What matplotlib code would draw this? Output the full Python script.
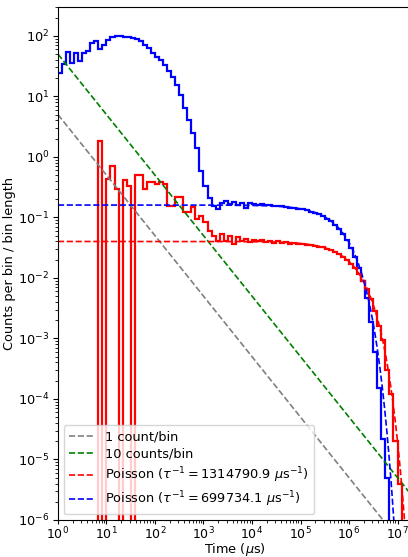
import numpy as np
import matplotlib
matplotlib.use("Agg")
import matplotlib.pyplot as plt

plt.rcParams.update({
    "font.size": 9.3,
    "xtick.labelsize": 9.0,
    "xtick.major.size": 3.0,
    "ytick.major.size": 3.3,
    "xtick.minor.size": 1.8,
    "ytick.minor.size": 1.9,
    "xtick.major.pad": 1.4,
    "ytick.major.pad": 3.0,
})

# log-spaced time bins, 12 per decade (microseconds)
BINS_PER_DECADE = 12
N_BINS = 89

# counts per bin / bin length, one value per bin
blue_rate = [
    24, 34, 55, 35, 52, 38, 52, 57, 76, 83,
    60, 71, 86, 95, 98, 101, 97, 95, 91, 88,
    83, 71, 63, 52, 45, 40, 33, 26, 21, 15.5,
    10.6, 6.4, 4.1, 2.5, 1.42, 0.58, 0.33, 0.21, 0.155, 0.137,
    0.17, 0.185, 0.165, 0.18, 0.16, 0.17, 0.145, 0.17, 0.168, 0.163,
    0.166, 0.158, 0.16, 0.156, 0.154, 0.152, 0.148, 0.145, 0.142, 0.139,
    0.135, 0.131, 0.125, 0.119, 0.112, 0.104, 0.095, 0.086, 0.075, 0.064,
    0.053, 0.042, 0.031, 0.022, 0.0145, 0.0088, 0.0046, 0.0019, 0.0006, 0.00015,
    2.2e-5, 5e-6, 0, 0, 0, 0, 0, 0, 0,
]
red_rate = [
    0, 0, 0, 0, 0, 0, 0, 0, 0, 0,
    1.82, 0, 0.43, 0.71, 0.3, 0, 0.42, 0.33, 0, 0.5,
    0.5, 0.3, 0.38, 0.38, 0.36, 0.38, 0.36, 0.155, 0.155, 0.215,
    0.215, 0.122, 0.122, 0.146, 0.094, 0.106, 0.083, 0.06, 0.05, 0.041,
    0.053, 0.041, 0.05, 0.037, 0.047, 0.041, 0.044, 0.039, 0.043, 0.04,
    0.042, 0.039, 0.041, 0.038, 0.04, 0.038, 0.039, 0.037, 0.038, 0.036,
    0.037, 0.035, 0.035, 0.034, 0.033, 0.032, 0.030, 0.029, 0.027, 0.025,
    0.022, 0.020, 0.017, 0.0145, 0.0115, 0.0088, 0.0066, 0.0044, 0.0028, 0.0016,
    0.00095, 0.0003, 0.00012, 2e-5, 4e-6, 0, 0, 0, 0,
]

# fitted Poisson models: amplitude and tau^-1 (as printed in the legend)
red_amp, red_tau = 0.04, 1314790.9
blue_amp, blue_tau = 0.16, 699734.1

# reference lines: counts/bin divided by bin length
one_count = 5.0
ten_counts = 50.0

edges = 10 ** (np.arange(N_BINS + 1) / BINS_PER_DECADE)
t = np.logspace(0, 7.35, 600)

fig = plt.figure(figsize=(4.08, 5.57), dpi=100)
ax = fig.add_axes([0.142, 0.0665, 0.868, 0.921])

ax.stairs(blue_rate, edges, baseline=None, color="b", lw=1.6)
ax.stairs(red_rate, edges, baseline=None, color="r", lw=1.6)

ax.plot(t, one_count / t, "--", color="gray", lw=1.2, label="1 count/bin")
ax.plot(t, ten_counts / t, "--", color="g", lw=1.2, label="10 counts/bin")
ax.plot(t, red_amp * np.exp(-t / red_tau), "--", color="r", lw=1.2,
        label=r"Poisson ($\tau^{-1} = %.1f$ $\mu$s$^{-1}$)" % red_tau)
ax.plot(t, blue_amp * np.exp(-t / blue_tau), "--", color="b", lw=1.2,
        label=r"Poisson ($\tau^{-1} = %.1f$ $\mu$s$^{-1}$)" % blue_tau)

ax.set_xscale("log")
ax.set_yscale("log")
ax.set_xlim(1, 10 ** 7.3)
ax.set_ylim(1e-6, 300)
ax.set_xlabel(r"Time ($\mu$s)")
ax.set_ylabel("Counts per bin / bin length")
ax.xaxis.set_label_coords(0.5, -0.0405)
ax.yaxis.set_label_coords(-0.118, 0.5)
ax.legend(loc="lower left", labelspacing=0.35, borderaxespad=0.45)

fig.savefig("out.png", dpi=100)
